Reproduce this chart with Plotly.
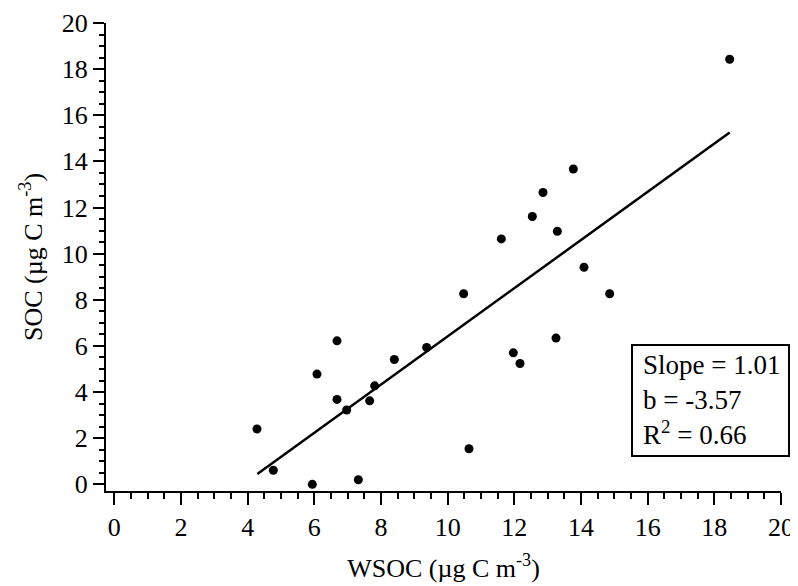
import plotly.graph_objects as go

# Data
wsoc = [4.28, 4.77, 5.94, 6.08, 6.68, 6.68, 6.97, 7.32, 7.66, 7.81, 8.40, 9.37,
        10.48, 10.64, 11.61, 11.97, 12.17, 12.54, 12.86, 13.25, 13.29, 13.77,
        14.09, 14.86, 18.46]
soc = [2.40, 0.61, 0.00, 4.78, 6.22, 3.68, 3.22, 0.20, 3.62, 4.27, 5.41, 5.93,
       8.26, 1.54, 10.64, 5.70, 5.24, 11.61, 12.65, 6.34, 10.97, 13.67,
       9.41, 8.26, 18.43]
fit_x = [4.29, 18.46]
fit_y = [0.45, 15.25]
stats_text = "Slope = 1.01<br>b = -3.57<br>R<sup>2</sup> = 0.66"
x_title = "WSOC (µg C m<sup>-3</sup>)"
y_title = "SOC (µg C m<sup>-3</sup>)"

FONT = "Liberation Serif, Times New Roman, serif"

fig = go.Figure()
fig.add_trace(go.Scatter(x=fit_x, y=fit_y, mode="lines",
                         line=dict(color="black", width=2.5),
                         showlegend=False, hoverinfo="skip"))
fig.add_trace(go.Scatter(x=wsoc, y=soc, mode="markers",
                         marker=dict(color="black", size=9, symbol="circle"),
                         showlegend=False))

fig.update_layout(
    width=790, height=578,
    margin=dict(l=98, r=17, t=15, b=95),
    paper_bgcolor="white", plot_bgcolor="white",
    font=dict(family=FONT, color="black", size=25),
    xaxis=dict(
        range=[-0.25, 20], tickvals=list(range(0, 21, 2)),
        showgrid=False, zeroline=False,
        showline=True, linecolor="black", linewidth=2,
        ticks="outside", ticklen=12, tickwidth=2, tickcolor="black",
        tickfont=dict(size=26, family=FONT),
        ticklabelstandoff=0,
        minor=dict(dtick=0.5, tick0=0, ticks="outside", ticklen=6,
                   tickwidth=1.5, tickcolor="black", showgrid=False),
        title=dict(text=x_title, font=dict(size=26, family=FONT), standoff=18),
        automargin=False,
    ),
    yaxis=dict(
        range=[-0.29, 20], tickvals=list(range(0, 21, 2)),
        showgrid=False, zeroline=False,
        showline=True, linecolor="black", linewidth=2,
        ticks="outside", ticklen=11, tickwidth=2, tickcolor="black",
        tickfont=dict(size=26, family=FONT),
        minor=dict(dtick=0.5, tick0=0, ticks="outside", ticklen=5,
                   tickwidth=1.5, tickcolor="black", showgrid=False),
        title=dict(text=y_title, font=dict(size=26, family=FONT), standoff=12),
        automargin=False,
    ),
)

# stats box (border drawn as a shape, text as an annotation)
fig.add_shape(type="rect", xref="paper", yref="paper",
              x0=0.7793, x1=1.0119, y0=0.0747, y1=0.3118,
              line=dict(color="black", width=2), fillcolor="white", layer="above")
fig.add_annotation(
    x=0.7926, y=0.1943, xref="paper", yref="paper",
    xanchor="left", yanchor="middle",
    text=stats_text, showarrow=False, align="left",
    font=dict(size=27, family=FONT, color="black"),
)

fig.write_html("out.html")
